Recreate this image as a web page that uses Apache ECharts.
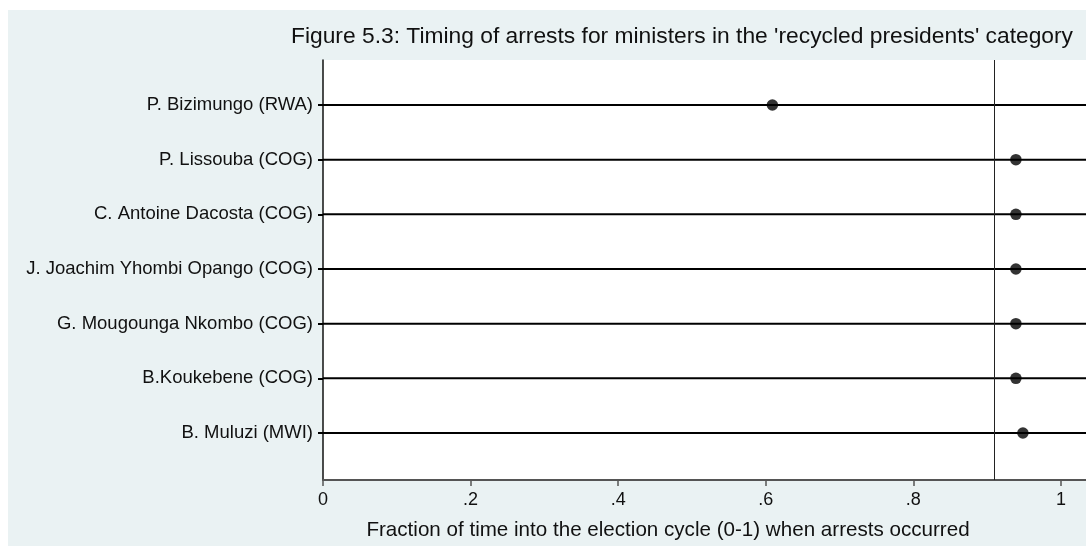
<!DOCTYPE html>
<html>
<head>
<meta charset="utf-8">
<script src="https://cdn.jsdelivr.net/npm/echarts@6/dist/echarts.min.js"></script>
<style>
  html, body { margin: 0; padding: 0; background: #ffffff; }
  #bg { position: absolute; left: 8px; top: 10px; width: 1078px; height: 536px; background: #EAF2F3; }
  #chart { position: absolute; left: 0; top: 0; width: 1086px; height: 546px; }
</style>
</head>
<body>
<div id="bg"></div>
<div id="chart"></div>
<script>
// ---- data ----
const names = [
  "P. Bizimungo (RWA)",
  "P. Lissouba (COG)",
  "C. Antoine Dacosta (COG)",
  "J. Joachim Yhombi Opango (COG)",
  "G. Mougounga Nkombo (COG)",
  "B.Koukebene (COG)",
  "B. Muluzi (MWI)"
];
const arrestFraction = [0.609, 0.939, 0.939, 0.939, 0.939, 0.939, 0.9485];
const xTickValues = [0, 0.2, 0.4, 0.6, 0.8, 1];
const xTickLabels = ["0", ".2", ".4", ".6", ".8", "1"];
const referenceLine = 0.905;
const titleText = "Figure 5.3: Timing of arrests for ministers in the 'recycled presidents' category";
const xTitle = "Fraction of time into the election cycle (0-1) when arrests occurred";

// ---- axis ranges ----
const X_MIN = 0, X_MAX = 1.034;
const Y_MIN = 0.177, Y_MAX = 7.86;

const rows = names.map((n, i) => i + 1);
const font = "'Liberation Sans', Arial, sans-serif";

const lineSeries = rows.map(r => ({
  type: 'line',
  data: [[X_MIN, r], [X_MAX, r]],
  symbol: 'none',
  lineStyle: { color: '#000', width: 2 },
  silent: true,
  z: 2
}));

const chart = echarts.init(document.getElementById('chart'), null, { renderer: 'canvas' });
chart.setOption({
  backgroundColor: 'transparent',
  animation: false,
  grid: {
    left: 323, right: 0, top: 60, bottom: 66,
    show: true, backgroundColor: '#ffffff', borderWidth: 0
  },
  xAxis: {
    type: 'value',
    min: X_MIN, max: X_MAX,
    axisLine: { show: true, lineStyle: { color: '#555', width: 2 } },
    axisTick: { show: true, length: 6, customValues: xTickValues, lineStyle: { color: '#555', width: 1.5 } },
    axisLabel: {
      customValues: xTickValues,
      formatter: v => { const k = xTickValues.findIndex(t => Math.abs(t - v) < 1e-9); return k >= 0 ? xTickLabels[k] : ''; },
      fontFamily: font, fontSize: 18, color: '#111', margin: 11
    },
    splitLine: { show: false }
  },
  yAxis: {
    type: 'value',
    inverse: true,
    min: Y_MIN, max: Y_MAX,
    axisLine: { show: true, lineStyle: { color: '#111', width: 1.5 } },
    axisTick: { show: true, length: 5, customValues: rows, lineStyle: { color: '#000', width: 2 } },
    axisLabel: {
      customValues: rows,
      formatter: v => names[Math.round(v) - 1] || '',
      fontFamily: font, fontSize: 18.5, color: '#111', margin: 10
    },
    splitLine: { show: false }
  },
  graphic: [{
    type: 'text',
    style: { x: 1073, y: 37, text: titleText, textAlign: 'right', textVerticalAlign: 'middle',
             font: "22.8px 'Liberation Sans', Arial, sans-serif", fill: '#111' }
  }, {
    type: 'text',
    style: { x: 668, y: 530, text: xTitle, textAlign: 'center', textVerticalAlign: 'middle',
             font: "20.6px 'Liberation Sans', Arial, sans-serif", fill: '#111' }
  }],
  series: [
    ...lineSeries,
    {
      type: 'scatter',
      data: arrestFraction.map((v, i) => [v, rows[i]]),
      symbol: 'circle', symbolSize: 11.5,
      itemStyle: { color: '#000' },
      z: 5,
      markLine: {
        silent: true, symbol: 'none', label: { show: false },
        lineStyle: { color: '#222', width: 1, type: 'solid' },
        data: [{ xAxis: referenceLine }]
      }
    }
  ]
});
</script>
</body>
</html>
